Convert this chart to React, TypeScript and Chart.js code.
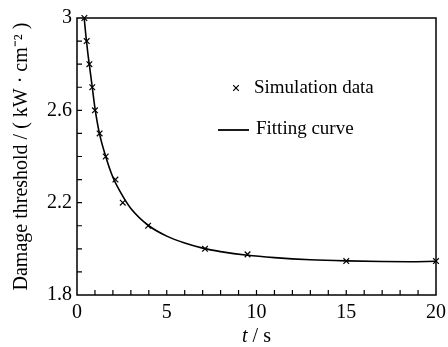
import React, { useEffect, useRef } from "react";
import { Chart, registerables } from "chart.js";

Chart.register(...registerables);

// Simulation data (time in s, damage threshold in kW·cm^-2)
const simT = [0.41, 0.54, 0.69, 0.85, 1.0, 1.26, 1.6, 2.14, 2.55, 3.96, 7.13, 9.5, 15.0, 20.0];
const simV = [3.0, 2.9, 2.8, 2.7, 2.6, 2.5, 2.4, 2.3, 2.2, 2.1, 2.0, 1.976, 1.947, 1.947];

// Fitting curve
const fitT = [0.4, 0.5, 0.6, 0.7, 0.85, 1.0, 1.25, 1.6, 2.0, 2.5, 3.0, 4.0, 5.0, 6.0, 7.0, 8.0, 9.5, 11, 13, 15, 17, 18.5, 20];
const fitV = [3.0, 2.92, 2.85, 2.79, 2.7, 2.61, 2.5, 2.4, 2.31, 2.235, 2.175, 2.1, 2.055, 2.025, 2.003, 1.988, 1.972, 1.962, 1.953, 1.948, 1.945, 1.944, 1.946];

const xTickValues = [0, 5, 10, 15, 20];
const yTickValues = [1.8, 2.2, 2.6, 3.0];
const legendLabels = ["Simulation data", "Fitting curve"];
const yTitle = "Damage threshold / ( kW · cm⁻² )";

const FONT = "'Liberation Serif', 'Times New Roman', serif";

export default function App() {
  const ref = useRef<HTMLCanvasElement | null>(null);

  useEffect(() => {
    document.body.style.margin = "0";
    const canvas = ref.current;
    if (!canvas) return;

    const decor = {
      id: "decor",
      afterDraw(chart: any) {
        const ctx = chart.ctx;
        const { left, right, top, bottom } = chart.chartArea;
        const xs = chart.scales.x;
        const ys = chart.scales.y;
        ctx.save();
        ctx.strokeStyle = "#000";
        ctx.lineWidth = 1.5;
        ctx.strokeRect(left, top, right - left, bottom - top);
        ctx.lineWidth = 1.2;
        ctx.beginPath();
        for (let i = 1; i < 12; i++) {
          const y = ys.getPixelForValue(1.8 + i * 0.1);
          ctx.moveTo(left, y);
          ctx.lineTo(left + 5, y);
        }
        for (let i = 1; i < 20; i++) {
          const x = xs.getPixelForValue(i);
          ctx.moveTo(x, bottom);
          ctx.lineTo(x, bottom - 5);
        }
        ctx.stroke();

        // legend
        ctx.fillStyle = "#000";
        ctx.font = `19px ${FONT}`;
        ctx.textBaseline = "middle";
        ctx.textAlign = "left";
        ctx.lineWidth = 1.2;
        const mx = 236, my = 88, r = 2.8;
        ctx.beginPath();
        ctx.moveTo(mx - r, my - r);
        ctx.lineTo(mx + r, my + r);
        ctx.moveTo(mx + r, my - r);
        ctx.lineTo(mx - r, my + r);
        ctx.stroke();
        ctx.fillText(legendLabels[0], 254, my);
        ctx.lineWidth = 1.8;
        ctx.beginPath();
        ctx.moveTo(218, 130);
        ctx.lineTo(249, 130);
        ctx.stroke();
        ctx.fillText(legendLabels[1], 256, 129);

        // x title: italic t / s
        ctx.textBaseline = "alphabetic";
        const cx = (left + right) / 2;
        const rest = " / s";
        ctx.font = `20px ${FONT}`;
        const wRest = ctx.measureText(rest).width;
        ctx.font = `italic 20px ${FONT}`;
        const wT = ctx.measureText("t").width;
        const start = cx - (wRest + wT) / 2;
        ctx.fillText("t", start, 342);
        ctx.font = `20px ${FONT}`;
        ctx.fillText(rest, start + wT, 342);
        ctx.restore();
      },
    };

    const chart = new Chart(canvas, {
      type: "scatter",
      data: {
        datasets: [
          {
            label: legendLabels[0],
            data: simT.map((t, i) => ({ x: t, y: simV[i] })),
            pointStyle: "crossRot",
            pointRadius: 4,
            pointBorderWidth: 1.2,
            borderColor: "#000",
            backgroundColor: "#000",
            showLine: false,
            clip: false as any,
          },
          {
            label: legendLabels[1],
            type: "line" as any,
            data: fitT.map((t, i) => ({ x: t, y: fitV[i] })),
            borderColor: "#000",
            borderWidth: 1.6,
            pointRadius: 0,
            showLine: true,
            cubicInterpolationMode: "monotone",
            fill: false,
          },
        ],
      },
      options: {
        animation: false,
        responsive: false,
        layout: { padding: { top: 18, right: 12, left: 0, bottom: 0 } },
        plugins: { legend: { display: false }, tooltip: { enabled: false } },
        scales: {
          x: {
            type: "linear",
            min: 0,
            max: 20,
            grid: { display: false, drawTicks: false },
            border: { display: false },
            afterFit: (s: any) => { s.height = 52; s.paddingLeft = 0; s.paddingRight = 0; },
            afterBuildTicks: (s: any) => { s.ticks = xTickValues.map((v) => ({ value: v })); },
            ticks: {
              color: "#000",
              font: { family: FONT, size: 20 },
              padding: 6,
              maxRotation: 0,
              callback: (v: any) => String(v),
            },
          },
          y: {
            type: "linear",
            min: 1.8,
            max: 3.0,
            grid: { display: false, drawTicks: false },
            border: { display: false },
            afterFit: (s: any) => { s.width = 77; s.paddingTop = 0; s.paddingBottom = 0; },
            afterBuildTicks: (s: any) => { s.ticks = yTickValues.map((v) => ({ value: v })); },
            ticks: {
              color: "#000",
              font: { family: FONT, size: 20 },
              padding: 5,
              callback: (v: any) => String(Number(Number(v).toFixed(1))),
            },
            title: {
              display: true,
              text: yTitle,
              color: "#000",
              font: { family: FONT, size: 20 },
              padding: { top: 10, bottom: 0 },
            },
          },
        },
      },
      plugins: [decor],
    });
    return () => chart.destroy();
  }, []);

  return (
    <div style={{ width: 448, height: 347 }}>
      <canvas ref={ref} width={448} height={347} style={{ display: "block" }} />
    </div>
  );
}
